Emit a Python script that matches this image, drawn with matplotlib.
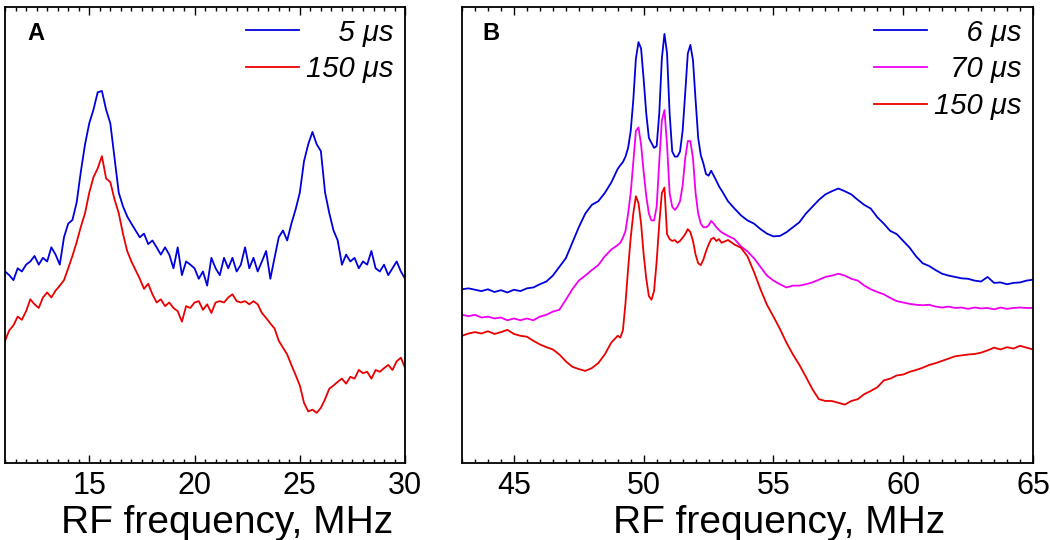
import numpy as np
import matplotlib
matplotlib.use('Agg')
import matplotlib.pyplot as plt
from matplotlib.ticker import MultipleLocator

plt.rcParams['font.family'] = ['Liberation Sans', 'DejaVu Sans']

# panel A: RF frequency grid (MHz) and signal (a.u.)
freq_a = np.round(np.arange(11.0, 30.01, 0.2), 2)
blue_a = [42.0, 41.2, 40.1, 42.7, 42.0, 43.5, 44.2, 45.4, 43.5, 45.0,
          44.2, 47.3, 45.7, 43.5, 49.5, 52.5, 53.3, 57.1, 63.9, 69.9,
          74.5, 77.5, 81.3, 81.6, 77.5, 74.5, 66.9, 59.3, 56.3, 54.1,
          52.5, 51.0, 49.5, 50.3, 48.0, 48.8, 47.3, 45.7, 47.3, 45.7,
          42.7, 47.3, 41.2, 44.2, 43.5, 42.7, 40.4, 42.0, 38.9, 45.0,
          42.7, 41.2, 45.0, 42.7, 45.0, 42.0, 43.5, 47.3, 42.7, 45.0,
          42.0, 44.2, 46.5, 40.4, 45.0, 49.5, 51.0, 48.8, 52.5, 55.6,
          59.3, 66.2, 69.9, 72.6, 69.9, 68.4, 59.3, 54.8, 51.0, 48.8,
          43.5, 45.7, 44.2, 45.0, 42.7, 44.2, 43.5, 46.5, 42.7, 42.0,
          43.5, 41.2, 42.7, 44.2, 42.0, 40.4]
red_a = [26.8, 29.1, 30.2, 32.1, 31.4, 33.3, 35.9, 34.8, 34.0, 36.3,
         37.4, 36.3, 37.8, 38.9, 40.1, 42.7, 45.4, 48.4, 51.8, 54.8,
         59.3, 62.7, 64.6, 67.3, 62.4, 61.6, 57.8, 54.8, 50.3, 46.5,
         44.2, 42.3, 40.4, 38.2, 39.3, 37.0, 35.2, 35.9, 34.4, 35.2,
         34.0, 33.3, 31.0, 34.4, 34.0, 35.2, 35.5, 33.6, 34.8, 32.9,
         35.2, 35.5, 35.2, 36.3, 37.0, 35.5, 35.2, 35.5, 34.8, 35.5,
         34.8, 32.9, 31.8, 30.6, 29.5, 26.8, 25.3, 23.8, 21.5, 19.3,
         17.0, 13.2, 11.3, 11.7, 11.0, 12.1, 14.0, 16.3, 17.0, 17.8,
         18.5, 17.4, 18.9, 18.5, 20.4, 19.7, 20.0, 18.5, 20.4, 20.0,
         20.8, 21.5, 20.4, 22.3, 23.1, 20.8]

# panel B: finer grid across the three narrow lines
freq_b = np.round(np.concatenate([np.arange(43.0, 49.0, 0.25),
                                  np.arange(49.0, 53.0, 0.1),
                                  np.arange(53.0, 65.01, 0.25)]), 2)
blue_b = [38.1, 38.3, 38.0, 37.7, 38.1, 37.5, 37.9, 37.4, 38.0, 37.7,
          38.3, 38.5, 39.2, 39.8, 41.1, 43.0, 44.9, 48.3, 51.7, 54.7,
          56.6, 57.4, 59.2, 61.5,
          64.5, 65.3, 66.0, 67.2, 69.1, 72.8, 79.6, 88.7, 92.3, 90.9,
          84.1, 76.6, 71.3, 70.2, 69.1, 69.5, 76.6, 88.7, 94.1, 89.9,
          76.6, 68.3, 67.2, 67.2, 68.3, 72.8, 81.1, 89.8, 91.7, 88.3,
          79.6, 71.3, 67.5, 65.7, 63.4, 63.0, 64.1, 63.0, 61.9, 60.7,
          59.8, 57.4, 55.8, 54.3, 53.2, 52.5, 51.3, 50.3, 49.7, 49.8,
          50.6, 51.7, 52.8, 54.7, 56.2, 57.7, 58.9, 59.6, 60.2, 59.6,
          58.9, 57.7, 56.6, 55.8, 53.9, 52.5, 50.9, 50.2, 48.7, 47.2,
          45.3, 43.8, 43.2, 42.3, 41.5, 41.1, 40.8, 40.5, 40.4, 40.0,
          39.8, 40.8, 39.5, 39.6, 39.2, 39.5, 39.6, 40.0, 40.2]
magenta_b = [32.5, 32.2, 32.5, 31.9, 32.1, 31.7, 31.9, 31.3, 31.7, 31.3,
             31.7, 31.3, 32.1, 32.5, 33.2, 33.6, 35.8, 38.1, 40.0, 41.1,
             42.3, 43.4, 45.3, 46.8,
             47.8, 48.3, 49.4, 50.9, 54.7, 59.2, 66.0, 72.8, 73.6, 69.8,
             63.8, 58.5, 54.7, 53.2, 53.2, 56.2, 66.0, 75.1, 77.4, 69.8,
             59.2, 56.2, 55.5, 56.2, 57.4, 60.8, 66.8, 70.6, 70.6, 66.8,
             59.2, 54.7, 52.5, 51.7, 51.7, 52.1, 53.1, 52.5, 51.7, 51.1,
             50.6, 49.8, 49.1, 47.5, 46.4, 44.9, 43.0, 41.1, 40.0, 39.2,
             38.5, 38.9, 38.9, 39.2, 39.6, 40.2, 40.8, 41.1, 41.5, 41.1,
             40.4, 40.0, 38.9, 38.1, 37.5, 37.0, 36.2, 35.5, 35.2, 34.9,
             34.7, 34.6, 34.7, 34.3, 34.1, 34.3, 34.0, 34.1, 33.8, 34.1,
             33.9, 34.0, 33.7, 34.1, 33.8, 34.0, 34.1, 34.0, 34.0]
red_b = [27.9, 28.4, 28.7, 28.4, 28.9, 28.3, 28.7, 29.2, 28.3, 27.9,
         27.7, 26.8, 26.0, 25.4, 24.9, 23.8, 22.3, 21.1, 20.6, 20.2,
         20.8, 21.9, 23.8, 26.4,
         27.9, 27.5, 29.1, 35.1, 42.6, 49.4, 54.7, 58.5, 57.0, 52.5,
         45.7, 40.4, 36.6, 35.8, 37.7, 44.2, 52.5, 59.2, 60.4, 50.2,
         49.1, 48.7, 48.9, 48.3, 48.7, 49.4, 50.2, 51.3, 50.6, 48.7,
         45.7, 43.8, 43.4, 44.6, 46.4, 47.9, 49.1, 49.4, 48.7, 49.1,
         48.3, 48.9, 47.9, 47.2, 45.3, 41.9, 38.1, 34.7, 32.1, 29.4,
         26.4, 23.8, 21.5, 18.9, 16.2, 14.0, 13.6, 13.6, 13.2, 12.8,
         13.6, 14.0, 15.1, 15.8, 16.6, 18.1, 18.5, 19.2, 19.4, 20.0,
         20.4, 20.9, 21.5, 21.9, 22.4, 22.9, 23.4, 23.6, 23.8, 23.9,
         24.2, 24.7, 25.3, 24.9, 25.4, 25.1, 25.7, 25.3, 24.9]

# figure spaces keep the legend labels right-aligned
labels_a = ['\u2007\u20075 μs', '150 μs']
labels_b = ['\u2007\u20076 μs', '\u200770 μs', '150 μs']

BLUE, MAGENTA, RED = '#0000dc', '#f000f0', '#ea0000'

fig = plt.figure(figsize=(10.5, 5.4), dpi=100)
ax_a = fig.add_axes([0.0048, 0.1426, 0.381, 0.8444])
ax_b = fig.add_axes([0.44, 0.1426, 0.5438, 0.8444])

ax_a.plot(freq_a, blue_a, color=BLUE, lw=1.3, label=labels_a[0])
ax_a.plot(freq_a, red_a, color=RED, lw=1.3, label=labels_a[1])
ax_a.set_xlim(11, 30)
ax_a.set_xticks([15, 20, 25, 30])

ax_b.plot(freq_b, blue_b, color=BLUE, lw=1.3, label=labels_b[0])
ax_b.plot(freq_b, magenta_b, color=MAGENTA, lw=1.3, label=labels_b[1])
ax_b.plot(freq_b, red_b, color=RED, lw=1.3, label=labels_b[2])
ax_b.set_xlim(43, 65)
ax_b.set_xticks([45, 50, 55, 60, 65])

for ax, letter, lx in [(ax_a, 'A', 0.055), (ax_b, 'B', 0.036)]:
    ax.set_ylim(0, 100)
    ax.set_yticks([])
    ax.xaxis.set_minor_locator(MultipleLocator(0.5))
    ax.tick_params(axis='x', which='both', direction='in', top=True,
                   labelsize=22, pad=6)
    ax.tick_params(axis='x', which='major', length=6, width=1)
    ax.tick_params(axis='x', which='minor', length=3, width=1)
    for sp in ax.spines.values():
        sp.set_linewidth(1.3)
    ax.set_xlabel('RF frequency, MHz', fontsize=28)
    ax.xaxis.set_label_coords(0.556, -0.092)
    ax.text(lx, 0.943, letter, transform=ax.transAxes, fontsize=17,
            fontweight='bold', va='center', ha='left')
    ax.legend(loc='upper right', frameon=False,
              prop={'size': 21, 'style': 'italic'},
              handlelength=1.8, handletextpad=0.25, labelspacing=0.3,
              borderaxespad=0.1, borderpad=0.3)

fig.savefig('out.png', dpi=100)
